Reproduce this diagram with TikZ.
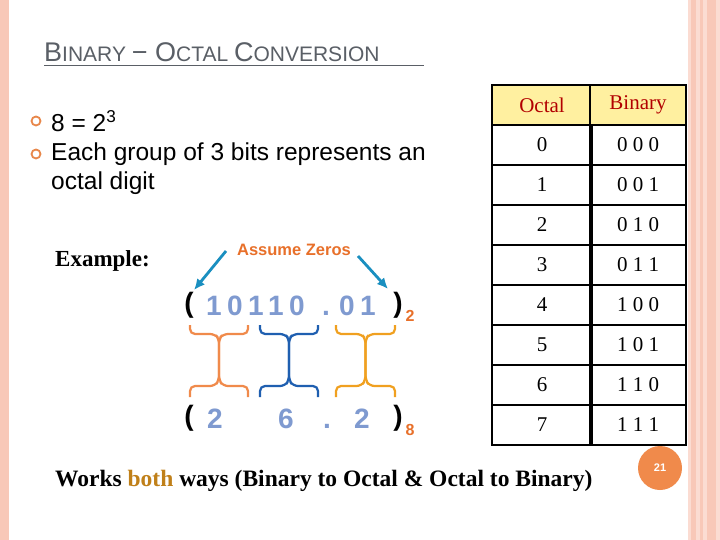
\documentclass[tikz,border=0pt]{standalone}
\usepackage{fontspec}
\setmainfont{Liberation Sans}
\newfontfamily\serif{Liberation Serif}
\begin{document}
\begin{tikzpicture}[x=1pt,y=-1pt,
  body/.style={font=\fontsize{24.5}{28}\selectfont,anchor=west,inner sep=0},
  cell/.style={draw=black,line width=1.6pt,minimum width=100pt,minimum height=40pt,font=\serif\fontsize{21}{24}\selectfont,inner sep=0},
  dig/.style={text=digblue,font=\fontsize{28}{30}\selectfont\bfseries,inner sep=0,anchor=base},
  par/.style={font=\fontsize{28}{30}\selectfont\bfseries,inner sep=0},
  bul/.style={circle,draw=bulorange,line width=1.8pt,minimum size=9pt,inner sep=0},
  arr/.style={-{Latex[length=11pt,width=10pt]},draw=arrteal,line width=2.8pt}]
\usetikzlibrary{arrows.meta}
\definecolor{digblue}{HTML}{7F9AD0}
\definecolor{bulorange}{HTML}{E8874A}
\definecolor{arrteal}{HTML}{1A8FC0}
\definecolor{zorange}{HTML}{E8702A}
\definecolor{bo}{HTML}{F08A4B}
\definecolor{bb}{HTML}{1F5FB0}
\definecolor{by}{HTML}{F0A020}
\definecolor{pinkA}{HTML}{F8C8B8}
\definecolor{pinkB}{HTML}{FBDCD2}
\definecolor{hdr}{HTML}{FFF0A0}
\definecolor{titlec}{HTML}{5A5F66}
\useasboundingbox (0,0) rectangle (720,540);
\fill[white] (0,0) rectangle (720,540);
% side decorations
\fill[pinkA] (0,0) rectangle (9,540);
\fill[pinkB] (688,0) rectangle (720,540);
\fill[pinkA] (691,0) rectangle (696,540);
\fill[pinkA] (700,0) rectangle (703,540);
\fill[pinkA] (707,0) rectangle (716,540);
% title
\node[anchor=south west,inner sep=0,text=titlec] (title) at (44,62)
 {\fontsize{27}{30}\selectfont B\fontsize{21}{24}\selectfont INARY \fontsize{27}{30}\selectfont{\textminus} O\fontsize{21}{24}\selectfont CTAL \fontsize{27}{30}\selectfont C\fontsize{21}{24}\selectfont ONVERSION};
\draw[titlec,line width=1pt] (44,66) -- (424,66);
% bullets
\node[bul] (b1) at (36,121) {};
\node[bul] (b2) at (36,154) {};
\node[body] (t1) at (51,121) {8 = 2\textsuperscript{3}};
\node[body] (t2) at (51,154) {Each group of 3 bits represents an};
\node[body] (t3) at (51,183) {octal digit};
\node[anchor=west,inner sep=0,font=\serif\fontsize{23}{26}\selectfont\bfseries] (ex) at (55,261) {Example:};
% assume zeros
\node[text=zorange,font=\fontsize{16.5}{18}\selectfont\bfseries,inner sep=1pt] (az) at (294,250) {Assume Zeros};
\coordinate (a1s) at (226,251); \coordinate (a1e) at (194,290);
\coordinate (a2s) at (358,256); \coordinate (a2e) at (388,289);
\draw[arr] (a1s) -- (a1e);
\draw[arr] (a2s) -- (a2e);
% binary row
\node[par] (lp1) at (189,305) {(};
\foreach \x/\d [count=\i] in {214/1,235/0,256/1,276/1,297/0,326/.,347/0,368/1}{
  \node[dig] (bit\i) at (\x,315) {\d};
}
\node[par] (rp1) at (398,305) {)};
\node[text=zorange,font=\fontsize{16}{18}\selectfont\bfseries,inner sep=0] (s2) at (410,316) {2};
% octal row
\node[par] (lp2) at (189,418) {(};
\node[dig] (o1) at (215,428) {2};
\node[dig] (o2) at (286,428) {6};
\node[dig] (o3) at (327,428) {.};
\node[dig] (o4) at (362,428) {2};
\node[par] (rp2) at (398,418) {)};
\node[text=zorange,font=\fontsize{16}{18}\selectfont\bfseries,inner sep=0] (s8) at (410,430) {8};
% braces
\foreach \l/\r/\c in {190/248/bo,260/318/bb,336/395/by}{
  \pgfmathsetmacro\m{(\l+\r)/2}
  \draw[\c,line width=2.2pt,rounded corners=5pt]
    (\l,325) -- (\l,334) -- (\m-4,334) -- (\m,339) -- (\m,380) -- (\m-4,386) -- (\l,386) -- (\l,397);
  \draw[\c,line width=2.2pt,rounded corners=5pt]
    (\r,325) -- (\r,334) -- (\m+4,334) -- (\m,339) -- (\m,380) -- (\m+4,386) -- (\r,386) -- (\r,397);
}
% table
\node[cell,fill=hdr,text=red!70!black,minimum width=100pt] (h1) at (542,105) {Octal};
\node[cell,fill=hdr,text=red!70!black,minimum width=96pt] (h2) at (638,105) {Binary};
\foreach \o/\b [count=\i from 0] in {0/0 0 0,1/0 0 1,2/0 1 0,3/0 1 1,4/1 0 0,5/1 0 1,6/1 1 0,7/1 1 1}{
  \node[cell,minimum width=100pt] (o\i) at (542,145+40*\i) {\o};
  \node[cell,minimum width=96pt] (bn\i) at (638,145+40*\i) {\b};
}
% footer
\node[anchor=west,inner sep=0,font=\serif\fontsize{23.5}{27}\selectfont\bfseries] (foot) at (55,481)
 {Works \textcolor{by!80!black}{both} ways (Binary to Octal \& Octal to Binary)};
\node[circle,fill=bo,minimum size=44pt,inner sep=0,text=white,font=\fontsize{11}{12}\selectfont\bfseries] (pg) at (660,468) {21};
\end{tikzpicture}
\end{document}
